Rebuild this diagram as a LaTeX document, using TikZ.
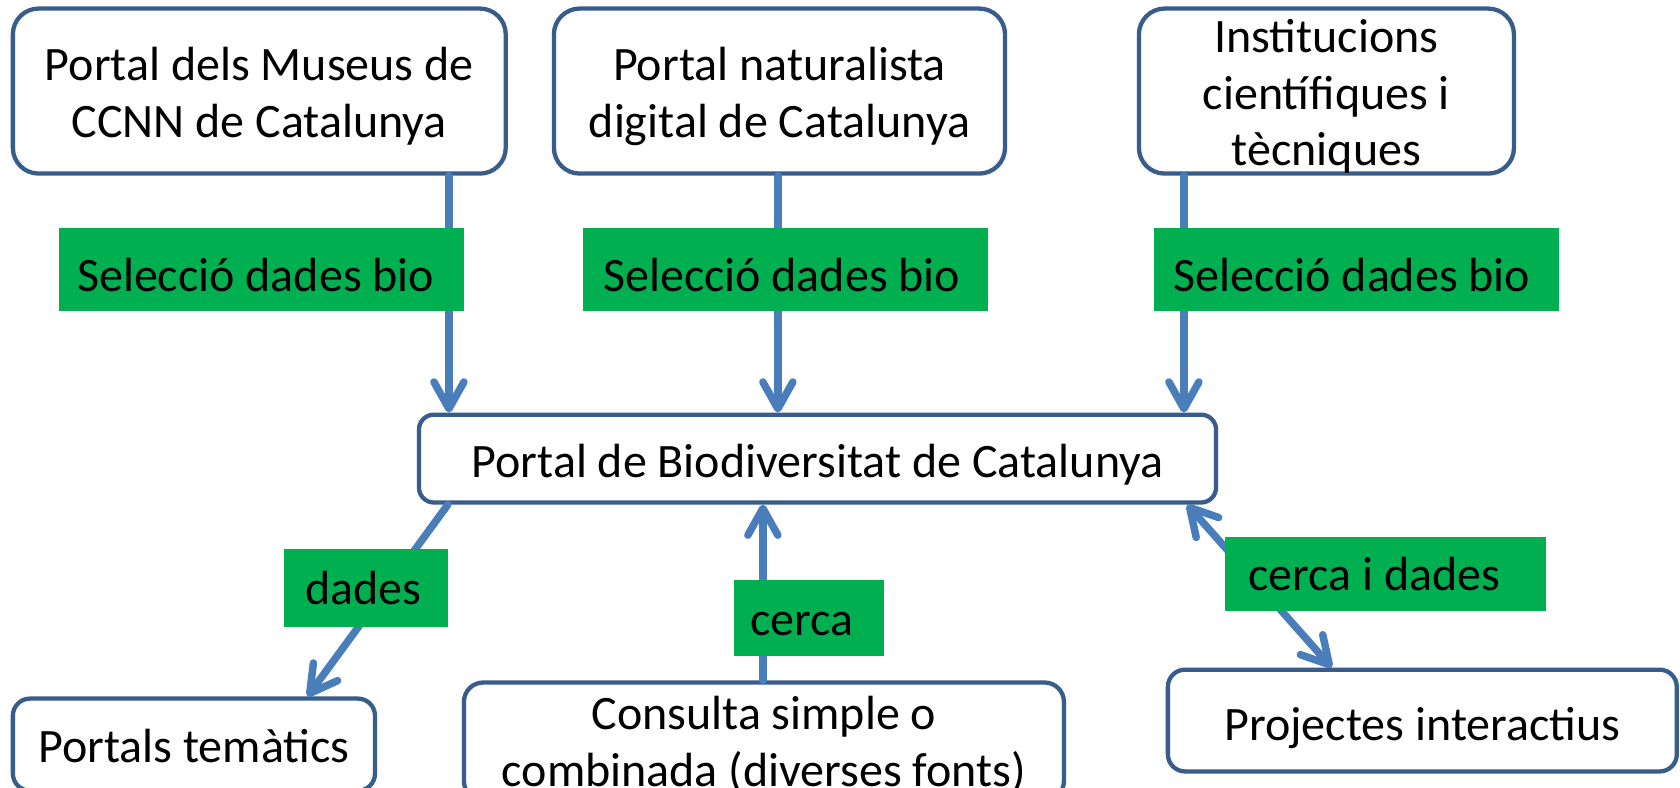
\documentclass[tikz,border=0pt]{standalone}
\usepackage{fontspec}
\setmainfont{Carlito}
\usetikzlibrary{arrows.meta}
\definecolor{boxline}{HTML}{385D8A}
\definecolor{arrowc}{HTML}{4A7EBB}
\definecolor{labgreen}{HTML}{00B050}
\begin{document}
\begin{tikzpicture}[x=0.5pt,y=-0.5pt,
  box/.style={draw=boxline, line width=2pt, fill=white, rounded corners=#1, inner sep=0pt},
  box/.default=8pt,
  btext/.style={inner sep=0pt, align=center, font=\fontsize{22.4}{26.5}\selectfont},
  lab/.style={fill=labgreen, inner sep=0pt},
  labtext/.style={inner sep=0pt, anchor=west, font=\fontsize{22.4}{26.5}\selectfont},
  tip/.style={Straight Barb[length=12.5pt,width=14pt,round]},
  arr/.style={draw=arrowc, line width=3.5pt, line cap=round, -{Straight Barb[length=12.5pt,width=14pt,round]}},
  darr/.style={draw=arrowc, line width=3.5pt, line cap=round, {Straight Barb[length=12.5pt,width=14pt,round]}-{Straight Barb[length=12.5pt,width=14pt,round]}}]
\useasboundingbox (0,0) rectangle (1568,735);
\clip (0,0) rectangle (1568,735);
\fill[white] (0,0) rectangle (1568,735);
% boxes
\node[box=12pt, minimum width=230pt, minimum height=77pt] (b1) at (242,85) {};
\node[btext] (b1t) at ([yshift=-2.5pt]b1.center) {Portal dels Museus de\\CCNN de Catalunya};
\node[box=12pt, minimum width=210.5pt, minimum height=77pt] (b2) at (727.5,85) {};
\node[btext] (b2t) at ([yshift=-2.5pt]b2.center) {Portal naturalista\\digital de Catalunya};
\node[box=12pt, minimum width=175pt, minimum height=77pt] (b3) at (1238,85) {};
\node[btext] (b3t) at ([yshift=-2.5pt]b3.center) {Institucions\\científiques i\\tècniques};
\node[box=7pt, minimum width=372pt, minimum height=41pt] (c) at (763,428) {};
\node[btext] (ct) at ([yshift=-3pt]c.center) {Portal de Biodiversitat de Catalunya};
\node[box=8pt, minimum width=169pt, minimum height=43pt] (pt) at (181,695) {};
\node[btext] (ptt) at ([yshift=-0.5pt]pt.center) {Portals temàtics};
\node[box=9pt, minimum width=280pt, minimum height=55pt] (cs) at (713,692) {};
\node[btext] (cst) at ([yshift=-1.5pt]cs.center) {Consulta simple o\\combinada (diverses fonts)};
\node[box=8pt, minimum width=237.5pt, minimum height=47.5pt] (pj) at (1327.5,672.5) {};
\node[btext] (pjt) at ([yshift=-3.5pt]pj.center) {Projectes interactius};
% connectors
\draw[arr] (b1.south -| 419,0) -- (c.north -| 419,0);
\draw[arr] (b2.south -| 726,0) -- (c.north -| 726,0);
\draw[arr] (b3.south -| 1105,0) -- (c.north -| 1105,0);
\draw[arr] (c.south -| 418,0) -- (pt.north -| 287,0);
\draw[arr] (cs.north -| 712,0) -- (c.south -| 712,0);
\draw[darr] (c.south -| 1108,0) -- (pj.north -| 1243,0);
% labels
\node[lab, minimum width=189pt, minimum height=38.5pt] (l1) at (244,251.5) {};
\node[labtext] (t1) at ([xshift=8.5pt,yshift=-2.5pt]l1.west) {Selecció dades bio};
\node[lab, minimum width=189pt, minimum height=38.5pt] (l2) at (733,251.5) {};
\node[labtext] (t2) at ([xshift=9.5pt,yshift=-2.5pt]l2.west) {Selecció dades bio};
\node[lab, minimum width=189pt, minimum height=38.5pt] (l3) at (1266,251.5) {};
\node[labtext] (t3) at ([xshift=9pt,yshift=-2.5pt]l3.west) {Selecció dades bio};
\node[lab, minimum width=76.5pt, minimum height=36.5pt] (ld) at (341.5,548.5) {};
\node[labtext] (td) at ([xshift=10pt]ld.west) {dades};
\node[lab, minimum width=70pt, minimum height=35.5pt] (lc) at (755,576.5) {};
\node[labtext] (tc) at ([xshift=7.5pt,yshift=-3pt]lc.west) {cerca};
\node[lab, minimum width=150pt, minimum height=34.5pt] (lcd) at (1293,535.5) {};
\node[labtext] (tcd) at ([xshift=11pt]lcd.west) {cerca i dades};
\end{tikzpicture}
\end{document}
